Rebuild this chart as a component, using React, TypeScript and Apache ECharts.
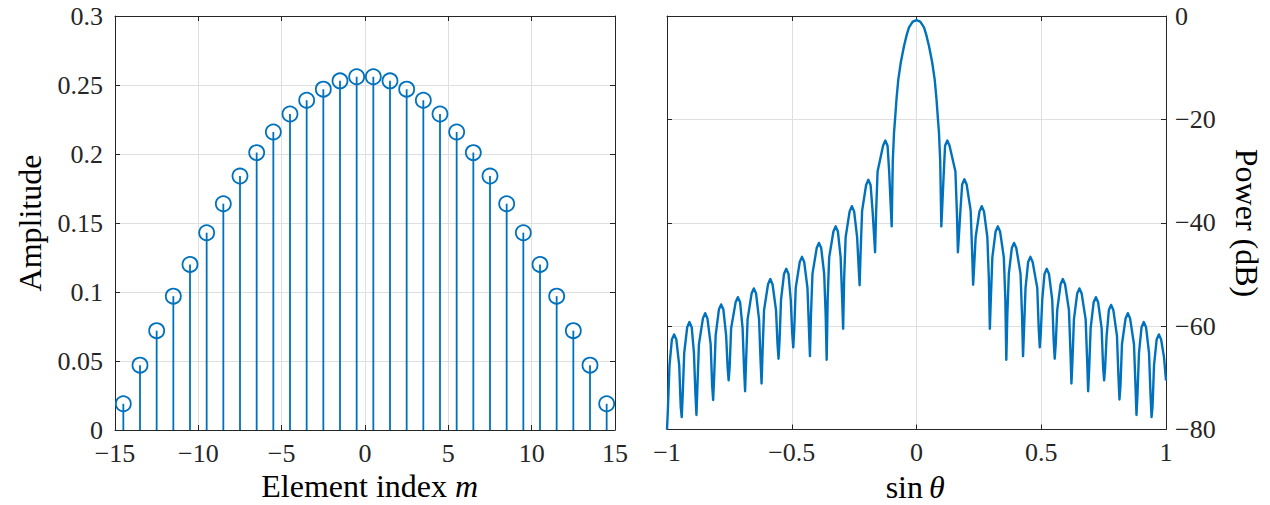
import { useEffect, useRef } from "react";
import * as echarts from "echarts";

// ---- Left panel: element weights ----
const elementIndex = [
  -14.5, -13.5, -12.5, -11.5, -10.5, -9.5, -8.5, -7.5, -6.5, -5.5, -4.5, -3.5, -2.5, -1.5, -0.5,
  0.5, 1.5, 2.5, 3.5, 4.5, 5.5, 6.5, 7.5, 8.5, 9.5, 10.5, 11.5, 12.5, 13.5, 14.5,
];
const amplitude = [
  0.019, 0.047, 0.072, 0.097, 0.120, 0.143, 0.164, 0.184, 0.201, 0.216, 0.229, 0.239, 0.247, 0.253, 0.256,
  0.256, 0.253, 0.247, 0.239, 0.229, 0.216, 0.201, 0.184, 0.164, 0.143, 0.120, 0.097, 0.072, 0.047, 0.019,
];
const xTicksLeft = [-15, 15, 5];
const yTicksLeft = [0, 0.3, 0.05];

// ---- Right panel: power pattern [sin theta, dB] ----
const patternLeft: number[][] = [
  [-1.0, -80.0],
  [-0.996, -75.6], [-0.99, -67.6], [-0.9805, -62.6], [-0.9715, -61.6], [-0.9625, -62.6], [-0.951, -67.6], [-0.945, -75.6],
  [-0.941, -77.6],
  [-0.937, -73.2], [-0.931, -65.2], [-0.919, -60.2], [-0.91, -59.2], [-0.901, -60.2], [-0.892, -65.2], [-0.886, -73.2],
  [-0.882, -77.2],
  [-0.878, -71.5], [-0.872, -63.5], [-0.856, -58.5], [-0.847, -57.5], [-0.838, -58.5], [-0.825, -63.5], [-0.819, -71.5],
  [-0.815, -74.3],
  [-0.811, -69.8], [-0.805, -61.8], [-0.792, -56.8], [-0.783, -55.8], [-0.774, -56.8], [-0.763, -61.8], [-0.757, -68.0],
  [-0.753, -70.5],
  [-0.749, -68.0], [-0.743, -60.4], [-0.725, -55.4], [-0.716, -54.4], [-0.707, -55.4], [-0.697, -60.4], [-0.691, -68.4],
  [-0.687, -72.6],
  [-0.683, -66.7], [-0.677, -58.7], [-0.661, -53.7], [-0.652, -52.7], [-0.643, -53.7], [-0.631, -58.7], [-0.625, -66.7],
  [-0.621, -71.1],
  [-0.617, -64.9], [-0.611, -56.9], [-0.595, -51.9], [-0.586, -50.9], [-0.577, -51.9], [-0.563, -56.9], [-0.557, -63.5],
  [-0.553, -66.3],
  [-0.549, -62.9], [-0.543, -54.9], [-0.531, -49.9], [-0.522, -48.9], [-0.513, -49.9], [-0.504, -54.9], [-0.498, -61.5],
  [-0.494, -64.1],
  [-0.49, -60.6], [-0.484, -52.6], [-0.468, -47.6], [-0.459, -46.6], [-0.45, -47.6], [-0.437, -52.6], [-0.431, -60.6],
  [-0.427, -65.8],
  [-0.423, -57.9], [-0.417, -49.9], [-0.4, -44.9], [-0.391, -43.9], [-0.382, -44.9], [-0.37, -49.9], [-0.364, -57.9],
  [-0.36, -66.5],
  [-0.356, -54.7], [-0.35, -46.7], [-0.333, -41.7], [-0.324, -40.7], [-0.315, -41.7], [-0.304, -46.7], [-0.298, -54.7],
  [-0.294, -60.5],
  [-0.29, -50.8], [-0.284, -42.8], [-0.268, -37.8], [-0.259, -36.8], [-0.25, -37.8], [-0.238, -42.8], [-0.232, -48.5],
  [-0.228, -52.1],
  [-0.224, -45.7], [-0.218, -37.7], [-0.202, -32.7], [-0.193, -31.7], [-0.184, -32.7], [-0.176, -37.7], [-0.17, -42.5],
  [-0.166, -45.7],
  [-0.162, -38.1], [-0.156, -30.1], [-0.134, -25.1], [-0.125, -24.1], [-0.116, -25.1], [-0.1095, -30.1], [-0.1035, -36.5],
  [-0.0995, -40.7],
];
const mainLobe: number[][] = [
  [-0.095, -28.0], [-0.09, -22.5], [-0.086, -20.0], [-0.08, -16.0], [-0.073, -12.3], [-0.063, -9.0],
  [-0.05, -5.8], [-0.039, -3.6], [-0.03, -2.2], [-0.015, -1.1], [0, -0.8],
  [0.015, -1.1], [0.03, -2.2], [0.039, -3.6], [0.05, -5.8], [0.063, -9.0], [0.073, -12.3],
  [0.08, -16.0], [0.086, -20.0], [0.09, -22.5], [0.095, -28.0],
];
const patternRight: number[][] = [
  [0.0995, -40.7],
  [0.1035, -36.5], [0.1095, -30.1], [0.1145, -25.1], [0.1235, -24.1], [0.1325, -25.1], [0.156, -30.1], [0.162, -38.1],
  [0.166, -45.7],
  [0.17, -42.5], [0.176, -37.6], [0.183, -32.6], [0.192, -31.6], [0.201, -32.6], [0.217, -37.6], [0.223, -45.6],
  [0.227, -52.0],
  [0.231, -48.5], [0.237, -42.8], [0.2525, -37.8], [0.2615, -36.8], [0.2705, -37.8], [0.284, -42.8], [0.29, -50.8],
  [0.294, -60.5],
  [0.298, -54.7], [0.304, -46.7], [0.317, -41.7], [0.326, -40.7], [0.335, -41.7], [0.35, -46.7], [0.356, -54.7],
  [0.36, -66.5],
  [0.364, -57.9], [0.37, -49.9], [0.382, -44.9], [0.391, -43.9], [0.4, -44.9], [0.417, -49.9], [0.423, -57.9],
  [0.427, -65.8],
  [0.431, -60.6], [0.437, -52.6], [0.4475, -47.6], [0.4565, -46.6], [0.4655, -47.6], [0.484, -52.6], [0.49, -60.6],
  [0.494, -64.1],
  [0.498, -61.5], [0.504, -54.9], [0.513, -49.9], [0.522, -48.9], [0.531, -49.9], [0.544, -54.9], [0.55, -62.9],
  [0.554, -66.3],
  [0.558, -63.5], [0.564, -56.9], [0.5775, -51.9], [0.5865, -50.9], [0.5955, -51.9], [0.611, -56.9], [0.617, -64.9],
  [0.621, -71.1],
  [0.625, -66.7], [0.631, -58.7], [0.644, -53.7], [0.653, -52.7], [0.662, -53.7], [0.678, -58.7], [0.684, -66.7],
  [0.688, -72.6],
  [0.692, -68.4], [0.698, -60.4], [0.71, -55.4], [0.719, -54.4], [0.728, -55.4], [0.742, -60.4], [0.748, -68.0],
  [0.752, -70.5],
  [0.756, -68.0], [0.762, -61.9], [0.771, -56.9], [0.78, -55.9], [0.789, -56.9], [0.8035, -61.9], [0.8095, -69.9],
  [0.8135, -74.2],
  [0.8175, -71.5], [0.8235, -63.5], [0.838, -58.5], [0.847, -57.5], [0.856, -58.5], [0.8717, -63.5], [0.8777, -71.5],
  [0.8817, -77.2],
  [0.8857, -73.2], [0.8917, -65.2], [0.902, -60.2], [0.911, -59.2], [0.92, -60.2], [0.932, -65.2], [0.938, -73.2],
  [0.942, -77.6],
  [0.946, -75.6], [0.952, -67.6], [0.9625, -62.6], [0.9715, -61.6], [0.9805, -62.6], [0.992, -66.0], [1.0, -70.5],
];
const xTicksRight = [-1, 1, 0.5];
const yTicksRight = [-80, 0, 20];

const BLUE = "#0072BD";
const AXIS = "#262626";
const GRID = "#dfdfdf";
const FONT = "'Liberation Serif', 'Times New Roman', serif";

const fmt = (v: number) => {
  const s = Math.abs(v) < 1e-9 ? "0" : String(+v.toFixed(2));
  return s.replace("-", "\u2212");
};

function axisCommon(showLabel: boolean, showSplit: boolean, margin: number) {
  return {
    axisLine: { show: true, onZero: false, lineStyle: { color: AXIS, width: 1 } },
    axisTick: { show: true, inside: true, length: 5, lineStyle: { color: AXIS, width: 1 } },
    axisLabel: {
      show: showLabel,
      margin,
      color: AXIS,
      fontFamily: FONT,
      fontSize: 26,
      lineHeight: 22,
      formatter: fmt,
      showMinLabel: true,
      showMaxLabel: true,
    },
    splitLine: { show: showSplit, lineStyle: { color: GRID, width: 1 } },
  };
}

function label(text: string, x: number, y: number, align: string, opts: any = {}) {
  return {
    type: "text",
    x,
    y,
    rotation: opts.rotation || 0,
    style: {
      text,
      font: `${opts.italic ? "italic " : ""}32px ${FONT}`,
      fill: "#000",
      align,
      verticalAlign: "middle",
    },
  };
}

export default function App() {
  const ref = useRef<HTMLDivElement>(null);
  useEffect(() => {
    document.body.style.margin = "0";
    if (!ref.current) return;
    const chart = echarts.init(ref.current, undefined, { renderer: "svg" });
    const stemData = elementIndex.map((m, i) => [m, amplitude[i]]);
    const patternData = [...patternLeft, ...mainLobe, ...patternRight];

    const xL = { type: "value", min: xTicksLeft[0], max: xTicksLeft[1], interval: xTicksLeft[2] };
    const yL = { type: "value", min: yTicksLeft[0], max: yTicksLeft[1], interval: yTicksLeft[2] };
    const xR = { type: "value", min: xTicksRight[0], max: xTicksRight[1], interval: xTicksRight[2] };
    const yR = { type: "value", min: yTicksRight[0], max: yTicksRight[1], interval: yTicksRight[2] };

    chart.setOption({
      animation: false,
      backgroundColor: "#ffffff",
      grid: [
        { left: 115, top: 16, width: 500, height: 414 },
        { left: 667, top: 16, width: 499, height: 413.5 },
      ],
      xAxis: [
        { ...xL, gridIndex: 0, position: "bottom", ...axisCommon(true, true, 12) },
        { ...xL, gridIndex: 0, position: "top", ...axisCommon(false, false, 12) },
        { ...xR, gridIndex: 1, position: "bottom", ...axisCommon(true, true, 12) },
        { ...xR, gridIndex: 1, position: "top", ...axisCommon(false, false, 12) },
      ],
      yAxis: [
        { ...yL, gridIndex: 0, position: "left", ...axisCommon(true, true, 12) },
        { ...yL, gridIndex: 0, position: "right", ...axisCommon(false, false, 12) },
        { ...yR, gridIndex: 1, position: "right", ...axisCommon(true, true, 9) },
        { ...yR, gridIndex: 1, position: "left", ...axisCommon(false, false, 9) },
      ],
      series: [
        {
          type: "custom",
          xAxisIndex: 0,
          yAxisIndex: 0,
          data: stemData,
          clip: false,
          renderItem: (_params: any, api: any) => {
            const x = api.value(0);
            const y = api.value(1);
            const p0 = api.coord([x, 0]);
            const p1 = api.coord([x, y]);
            return {
              type: "group",
              children: [
                {
                  type: "line",
                  shape: { x1: p0[0], y1: p0[1], x2: p1[0], y2: p1[1] },
                  style: { stroke: BLUE, lineWidth: 1.8 },
                },
                {
                  type: "circle",
                  shape: { cx: p1[0], cy: p1[1], r: 7.5 },
                  style: { fill: "none", stroke: BLUE, lineWidth: 1.8 },
                },
              ],
            };
          },
        },
        {
          type: "line",
          xAxisIndex: 2,
          yAxisIndex: 2,
          data: patternData,
          showSymbol: false,
          smooth: false,
          clip: true,
          lineStyle: { color: BLUE, width: 2.4, join: "round" },
          itemStyle: { color: BLUE },
        },
      ],
      graphic: [
        label("Amplitude", 30, 223, "center", { rotation: Math.PI / 2 }),
        label("Power (dB)", 1247, 223, "center", { rotation: -Math.PI / 2 }),
        label("Element index", 447, 486, "right"),
        label("m", 455, 486, "left", { italic: true }),
        label("sin", 923, 487, "right"),
        label("\u03b8", 929, 487, "left", { italic: true }),
      ],
    });
    return () => chart.dispose();
  }, []);
  return <div ref={ref} style={{ width: 1270, height: 505 }} />;
}
